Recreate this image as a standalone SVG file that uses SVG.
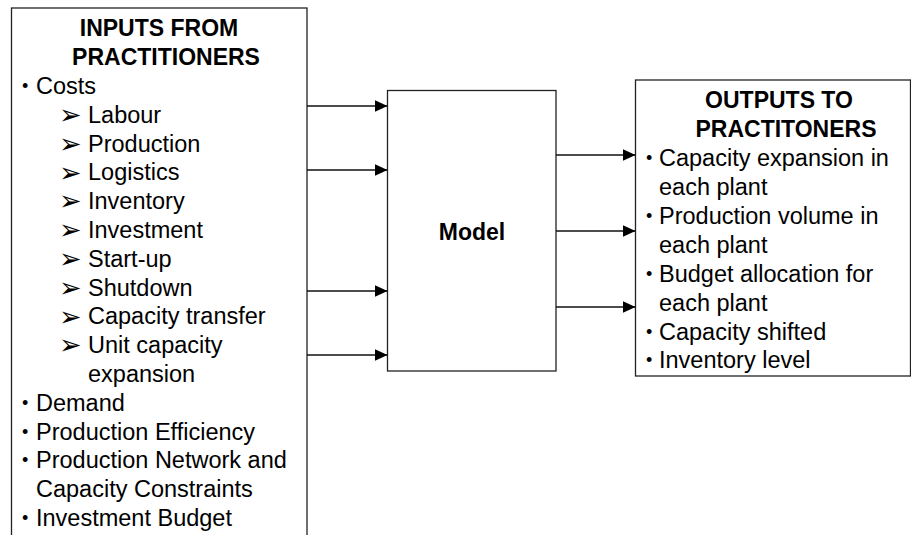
<svg xmlns="http://www.w3.org/2000/svg" width="911" height="535" viewBox="0 0 911 535">
  <style>
    .box { fill: #ffffff; stroke: #222222; stroke-width: 1.3; }
    .t { font-family: "Liberation Sans", Arial, sans-serif; font-size: 23.5px; fill: #000000; }
    .h { font-family: "Liberation Sans", Arial, sans-serif; font-size: 23px; font-weight: bold; fill: #000000; text-anchor: middle; }
    .b { font-family: "Liberation Sans", Arial, sans-serif; font-size: 18px; fill: #000000; }
    .a { font-family: "DejaVu Sans", sans-serif; font-size: 27px; fill: #000000; }
    .conn { stroke: #111111; stroke-width: 1.3; fill: none; marker-end: url(#arrow); }
  </style>
  <defs>
    <marker id="arrow" markerUnits="userSpaceOnUse" markerWidth="13" markerHeight="12" refX="13" refY="6" orient="auto">
      <path d="M0,0 L13,6 L0,12 Z" fill="#000000"/>
    </marker>
  </defs>
  <rect width="911" height="535" fill="#ffffff"/>

  <!-- Inputs -->
  <g id="inputs">
    <rect class="box" x="11.5" y="8" width="295.5" height="540"/>
    <text class="h" x="159" y="36">INPUTS FROM</text>
    <text class="h" x="166" y="65">PRACTITIONERS</text>
    <text class="b" x="22" y="92">•</text><text class="t" x="36" y="94">Costs</text>
    <text class="a" x="59" y="124">➢</text><text class="t" x="88" y="122.8">Labour</text>
    <text class="a" x="59" y="153">➢</text><text class="t" x="88" y="151.6">Production</text>
    <text class="a" x="59" y="182">➢</text><text class="t" x="88" y="180.4">Logistics</text>
    <text class="a" x="59" y="210">➢</text><text class="t" x="88" y="209.2">Inventory</text>
    <text class="a" x="59" y="239">➢</text><text class="t" x="88" y="238">Investment</text>
    <text class="a" x="59" y="268">➢</text><text class="t" x="88" y="266.8">Start-up</text>
    <text class="a" x="59" y="297">➢</text><text class="t" x="88" y="295.6">Shutdown</text>
    <text class="a" x="59" y="326">➢</text><text class="t" x="88" y="324.4">Capacity transfer</text>
    <text class="a" x="59" y="354">➢</text><text class="t" x="88" y="353.2">Unit capacity</text>
    <text class="t" x="88" y="382">expansion</text>
    <text class="b" x="22" y="409">•</text><text class="t" x="36" y="410.8">Demand</text>
    <text class="b" x="22" y="438">•</text><text class="t" x="36" y="439.6">Production Efficiency</text>
    <text class="b" x="22" y="466">•</text><text class="t" x="36" y="468.4">Production Network and</text>
    <text class="t" x="36" y="497.2">Capacity Constraints</text>
    <text class="b" x="22" y="524">•</text><text class="t" x="36" y="526">Investment Budget</text>
  </g>

  <!-- Model -->
  <g id="model">
    <rect class="box" x="387.5" y="90.5" width="168.5" height="280.5"/>
    <text class="h" x="472" y="240">Model</text>
  </g>

  <!-- Outputs -->
  <g id="outputs">
    <rect class="box" x="635.5" y="80" width="275" height="296"/>
    <text class="h" x="779" y="108">OUTPUTS TO</text>
    <text class="h" x="786" y="137">PRACTITONERS</text>
    <text class="b" x="646" y="164">•</text><text class="t" x="659" y="166">Capacity expansion in</text>
    <text class="t" x="659" y="195">each plant</text>
    <text class="b" x="646" y="222">•</text><text class="t" x="659" y="224">Production volume in</text>
    <text class="t" x="659" y="253">each plant</text>
    <text class="b" x="646" y="280">•</text><text class="t" x="659" y="282">Budget allocation for</text>
    <text class="t" x="659" y="311">each plant</text>
    <text class="b" x="646" y="338">•</text><text class="t" x="659" y="340">Capacity shifted</text>
    <text class="b" x="646" y="366">•</text><text class="t" x="659" y="368">Inventory level</text>
  </g>

  <!-- Connectors -->
  <g id="connectors">
    <line class="conn" x1="307" y1="106" x2="387.5" y2="106"/>
    <line class="conn" x1="307" y1="170" x2="387.5" y2="170"/>
    <line class="conn" x1="307" y1="291" x2="387.5" y2="291"/>
    <line class="conn" x1="307" y1="355" x2="387.5" y2="355"/>
    <line class="conn" x1="556" y1="155" x2="635.5" y2="155"/>
    <line class="conn" x1="556" y1="231" x2="635.5" y2="231"/>
    <line class="conn" x1="556" y1="307" x2="635.5" y2="307"/>
  </g>
</svg>
